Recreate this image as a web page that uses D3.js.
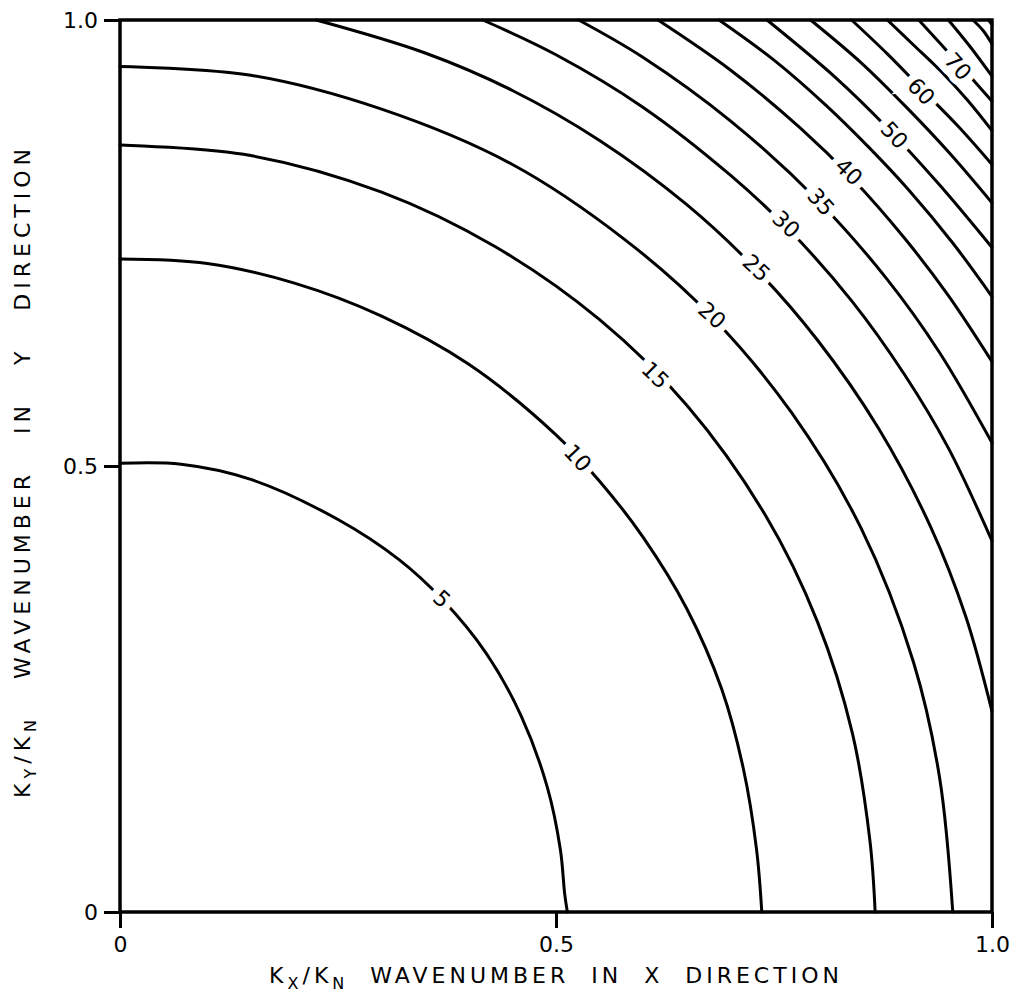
<!DOCTYPE html>
<html>
<head>
<meta charset="utf-8">
<script src="https://cdn.jsdelivr.net/npm/d3@7"></script>
<style>
  body { margin: 0; background: #fff; }
  svg { display: block; }
  text { font-family: "DejaVu Sans", sans-serif; fill: #000; }
</style>
</head>
<body>
<div id="chart"></div>
<script>
// contour levels and the [kx, ky] points of each line
const levels = [5, 10, 15, 20, 25, 30, 35, 40, 45, 50, 55, 60, 65, 70, 75, 80, 85];

const c5 = [[0, 0.503], [0.07, 0.502], [0.15, 0.485], [0.25, 0.44], [0.32, 0.395], [0.37, 0.35],
  [0.42, 0.29], [0.46, 0.22], [0.49, 0.14], [0.505, 0.07], [0.51, 0.02], [0.513, 0]];
const c10 = [[0, 0.732], [0.1, 0.727], [0.2, 0.705], [0.3, 0.668], [0.4, 0.614], [0.5, 0.535],
  [0.55, 0.483], [0.6, 0.42], [0.65, 0.34], [0.69, 0.25], [0.715, 0.16], [0.73, 0.07], [0.736, 0]];
const c15 = [[0, 0.86], [0.15, 0.848], [0.3, 0.807], [0.43, 0.746], [0.55, 0.664], [0.65, 0.568],
  [0.74, 0.445], [0.8, 0.325], [0.84, 0.2], [0.86, 0.08], [0.866, 0]];
const c20 = [[0, 0.948], [0.15, 0.938], [0.3, 0.9], [0.45, 0.838], [0.58, 0.753], [0.68, 0.666],
  [0.77, 0.56], [0.85, 0.43], [0.91, 0.28], [0.94, 0.15], [0.955, 0]];
const c25 = [[0.225, 1], [0.35, 0.963], [0.45, 0.921], [0.55, 0.865], [0.65, 0.793], [0.73, 0.72],
  [0.8, 0.641], [0.87, 0.542], [0.93, 0.431], [0.97, 0.331], [1, 0.225]];
const c30 = [[0.416, 1], [0.5, 0.961], [0.6, 0.902], [0.7, 0.826], [0.77, 0.762], [0.84, 0.684],
  [0.9, 0.602], [0.95, 0.52], [1, 0.416]];
const c35 = [[0.526, 1], [0.6, 0.958], [0.7, 0.887], [0.8, 0.798], [0.88, 0.709], [0.94, 0.627], [1, 0.526]];
const c40 = [[0.617, 1], [0.7, 0.944], [0.78, 0.879], [0.84, 0.822], [0.9, 0.755], [0.95, 0.691], [1, 0.617]];
const c45 = [[0.687, 1], [0.75, 0.955], [0.81, 0.904], [0.858, 0.858], [0.904, 0.81], [0.955, 0.75], [1, 0.69]];
const c50 = [[0.742, 1], [0.82, 0.936], [0.88, 0.879], [0.94, 0.815], [1, 0.745]];
const c55 = [[0.792, 1], [0.85, 0.952], [0.902, 0.902], [0.952, 0.85], [1, 0.795]];
const c60 = [[0.839, 1], [0.88, 0.962], [0.921, 0.921], [0.962, 0.88], [1, 0.838]];
const c65 = [[0.88, 1], [0.91, 0.972], [0.942, 0.942], [0.972, 0.91], [1, 0.876]];
const c70 = [[0.916, 1], [0.958, 0.955], [1, 0.909]];
const c75 = [[0.95, 1], [0.975, 0.97], [1, 0.937]];
const c80 = [[0.978, 1], [0.99, 0.988], [1, 0.973]];
const c85 = [[0.996, 1], [1, 0.995]];
const contourLines = [c5, c10, c15, c20, c25, c30, c35, c40, c45, c50, c55, c60, c65, c70, c75, c80, c85];

// in-line labels: level and where it sits
const labelLevels = [5, 10, 15, 20, 25, 30, 35, 40, 50, 60, 70];
const labelKx = [0.369, 0.525, 0.614, 0.679, 0.73, 0.764, 0.804, 0.836, 0.888, 0.919, 0.961];
const labelKy = [0.351, 0.509, 0.602, 0.669, 0.722, 0.771, 0.796, 0.83, 0.871, 0.92, 0.948];

const tickValues = [0, 0.5, 1];
const tickLabels = ["0", "0.5", "1.0"];

const width = 1024, height = 1000;
const margin = {left: 120, right: 32, top: 20, bottom: 88};

const svg = d3.select("#chart").append("svg")
  .attr("width", width)
  .attr("height", height);

const x = d3.scaleLinear().domain([0, 1]).range([margin.left, width - margin.right]);
const y = d3.scaleLinear().domain([0, 1]).range([height - margin.bottom, margin.top]);

// contour lines
const line = d3.line()
  .x(d => x(d[0]))
  .y(d => y(d[1]))
  .curve(d3.curveCatmullRom.alpha(0.5));

svg.append("g")
  .selectAll("path")
  .data(contourLines)
  .join("path")
  .attr("d", line)
  .attr("fill", "none")
  .attr("stroke", "#000")
  .attr("stroke-width", 3)
  .attr("stroke-linejoin", "round")
  .attr("stroke-linecap", "round");

// angle of a contour at the label point, in screen space
function labelAngle(pts, kx, ky) {
  let best = 0, bestD = Infinity;
  for (let i = 0; i < pts.length - 1; i++) {
    const mx = (pts[i][0] + pts[i + 1][0]) / 2, my = (pts[i][1] + pts[i + 1][1]) / 2;
    const d = (mx - kx) ** 2 + (my - ky) ** 2;
    if (d < bestD) { bestD = d; best = i; }
  }
  const a = pts[best], b = pts[best + 1];
  const dx = x(b[0]) - x(a[0]), dy = y(b[1]) - y(a[1]);
  return Math.atan2(dy, dx) * 180 / Math.PI;
}

const labels = labelLevels.map((lv, i) => ({
  text: lv,
  kx: labelKx[i],
  ky: labelKy[i],
  angle: labelAngle(contourLines[levels.indexOf(lv)], labelKx[i], labelKy[i])
}));

svg.append("g")
  .selectAll("text")
  .data(labels)
  .join("text")
  .attr("transform", d => `translate(${x(d.kx)},${y(d.ky)}) rotate(${d.angle})`)
  .attr("text-anchor", "middle")
  .attr("dy", "0.35em")
  .attr("font-size", 22)
  .attr("stroke", "#fff")
  .attr("stroke-width", 14)
  .attr("paint-order", "stroke")
  .text(d => d.text);

// frame
svg.append("rect")
  .attr("x", x(0))
  .attr("y", y(1))
  .attr("width", x(1) - x(0))
  .attr("height", y(0) - y(1))
  .attr("fill", "none")
  .attr("stroke", "#000")
  .attr("stroke-width", 3.5);

// axes
const xAxis = d3.axisBottom(x)
  .tickValues(tickValues)
  .tickFormat((d, i) => tickLabels[i])
  .tickSize(16)
  .tickSizeOuter(0)
  .tickPadding(8);
const yAxis = d3.axisLeft(y)
  .tickValues(tickValues)
  .tickFormat((d, i) => tickLabels[i])
  .tickSize(16)
  .tickSizeOuter(0)
  .tickPadding(6);

const gx = svg.append("g")
  .attr("transform", `translate(0,${y(0)})`)
  .call(xAxis);
const gy = svg.append("g")
  .attr("transform", `translate(${x(0)},0)`)
  .call(yAxis);

[gx, gy].forEach(g => {
  g.select(".domain").remove();
  g.selectAll(".tick line").attr("stroke", "#000").attr("stroke-width", 3);
  g.selectAll(".tick text")
    .attr("font-family", "DejaVu Sans, sans-serif")
    .attr("font-size", 22)
    .attr("fill", "#000");
});

// axis titles with subscripts
function title(g, sub1, rest) {
  g.append("tspan").text("K");
  g.append("tspan").attr("font-size", 16).attr("dy", 6).text(sub1);
  g.append("tspan").attr("dy", -6).text("/K");
  g.append("tspan").attr("font-size", 16).attr("dy", 6).text("N");
  g.append("tspan").attr("dy", -6).text(rest);
}

const xt = svg.append("text")
  .attr("x", (x(0) + x(1)) / 2)
  .attr("y", 983)
  .attr("text-anchor", "middle")
  .attr("font-size", 22)
  .attr("letter-spacing", 4)
  .attr("xml:space", "preserve");
title(xt, "X", "  WAVENUMBER  IN  X  DIRECTION");

const yt = svg.append("text")
  .attr("transform", `translate(30,471) rotate(-90)`)
  .attr("text-anchor", "middle")
  .attr("font-size", 22)
  .attr("letter-spacing", 5)
  .attr("xml:space", "preserve");
title(yt, "Y", "   WAVENUMBER   IN   Y   DIRECTION");
</script>
</body>
</html>
